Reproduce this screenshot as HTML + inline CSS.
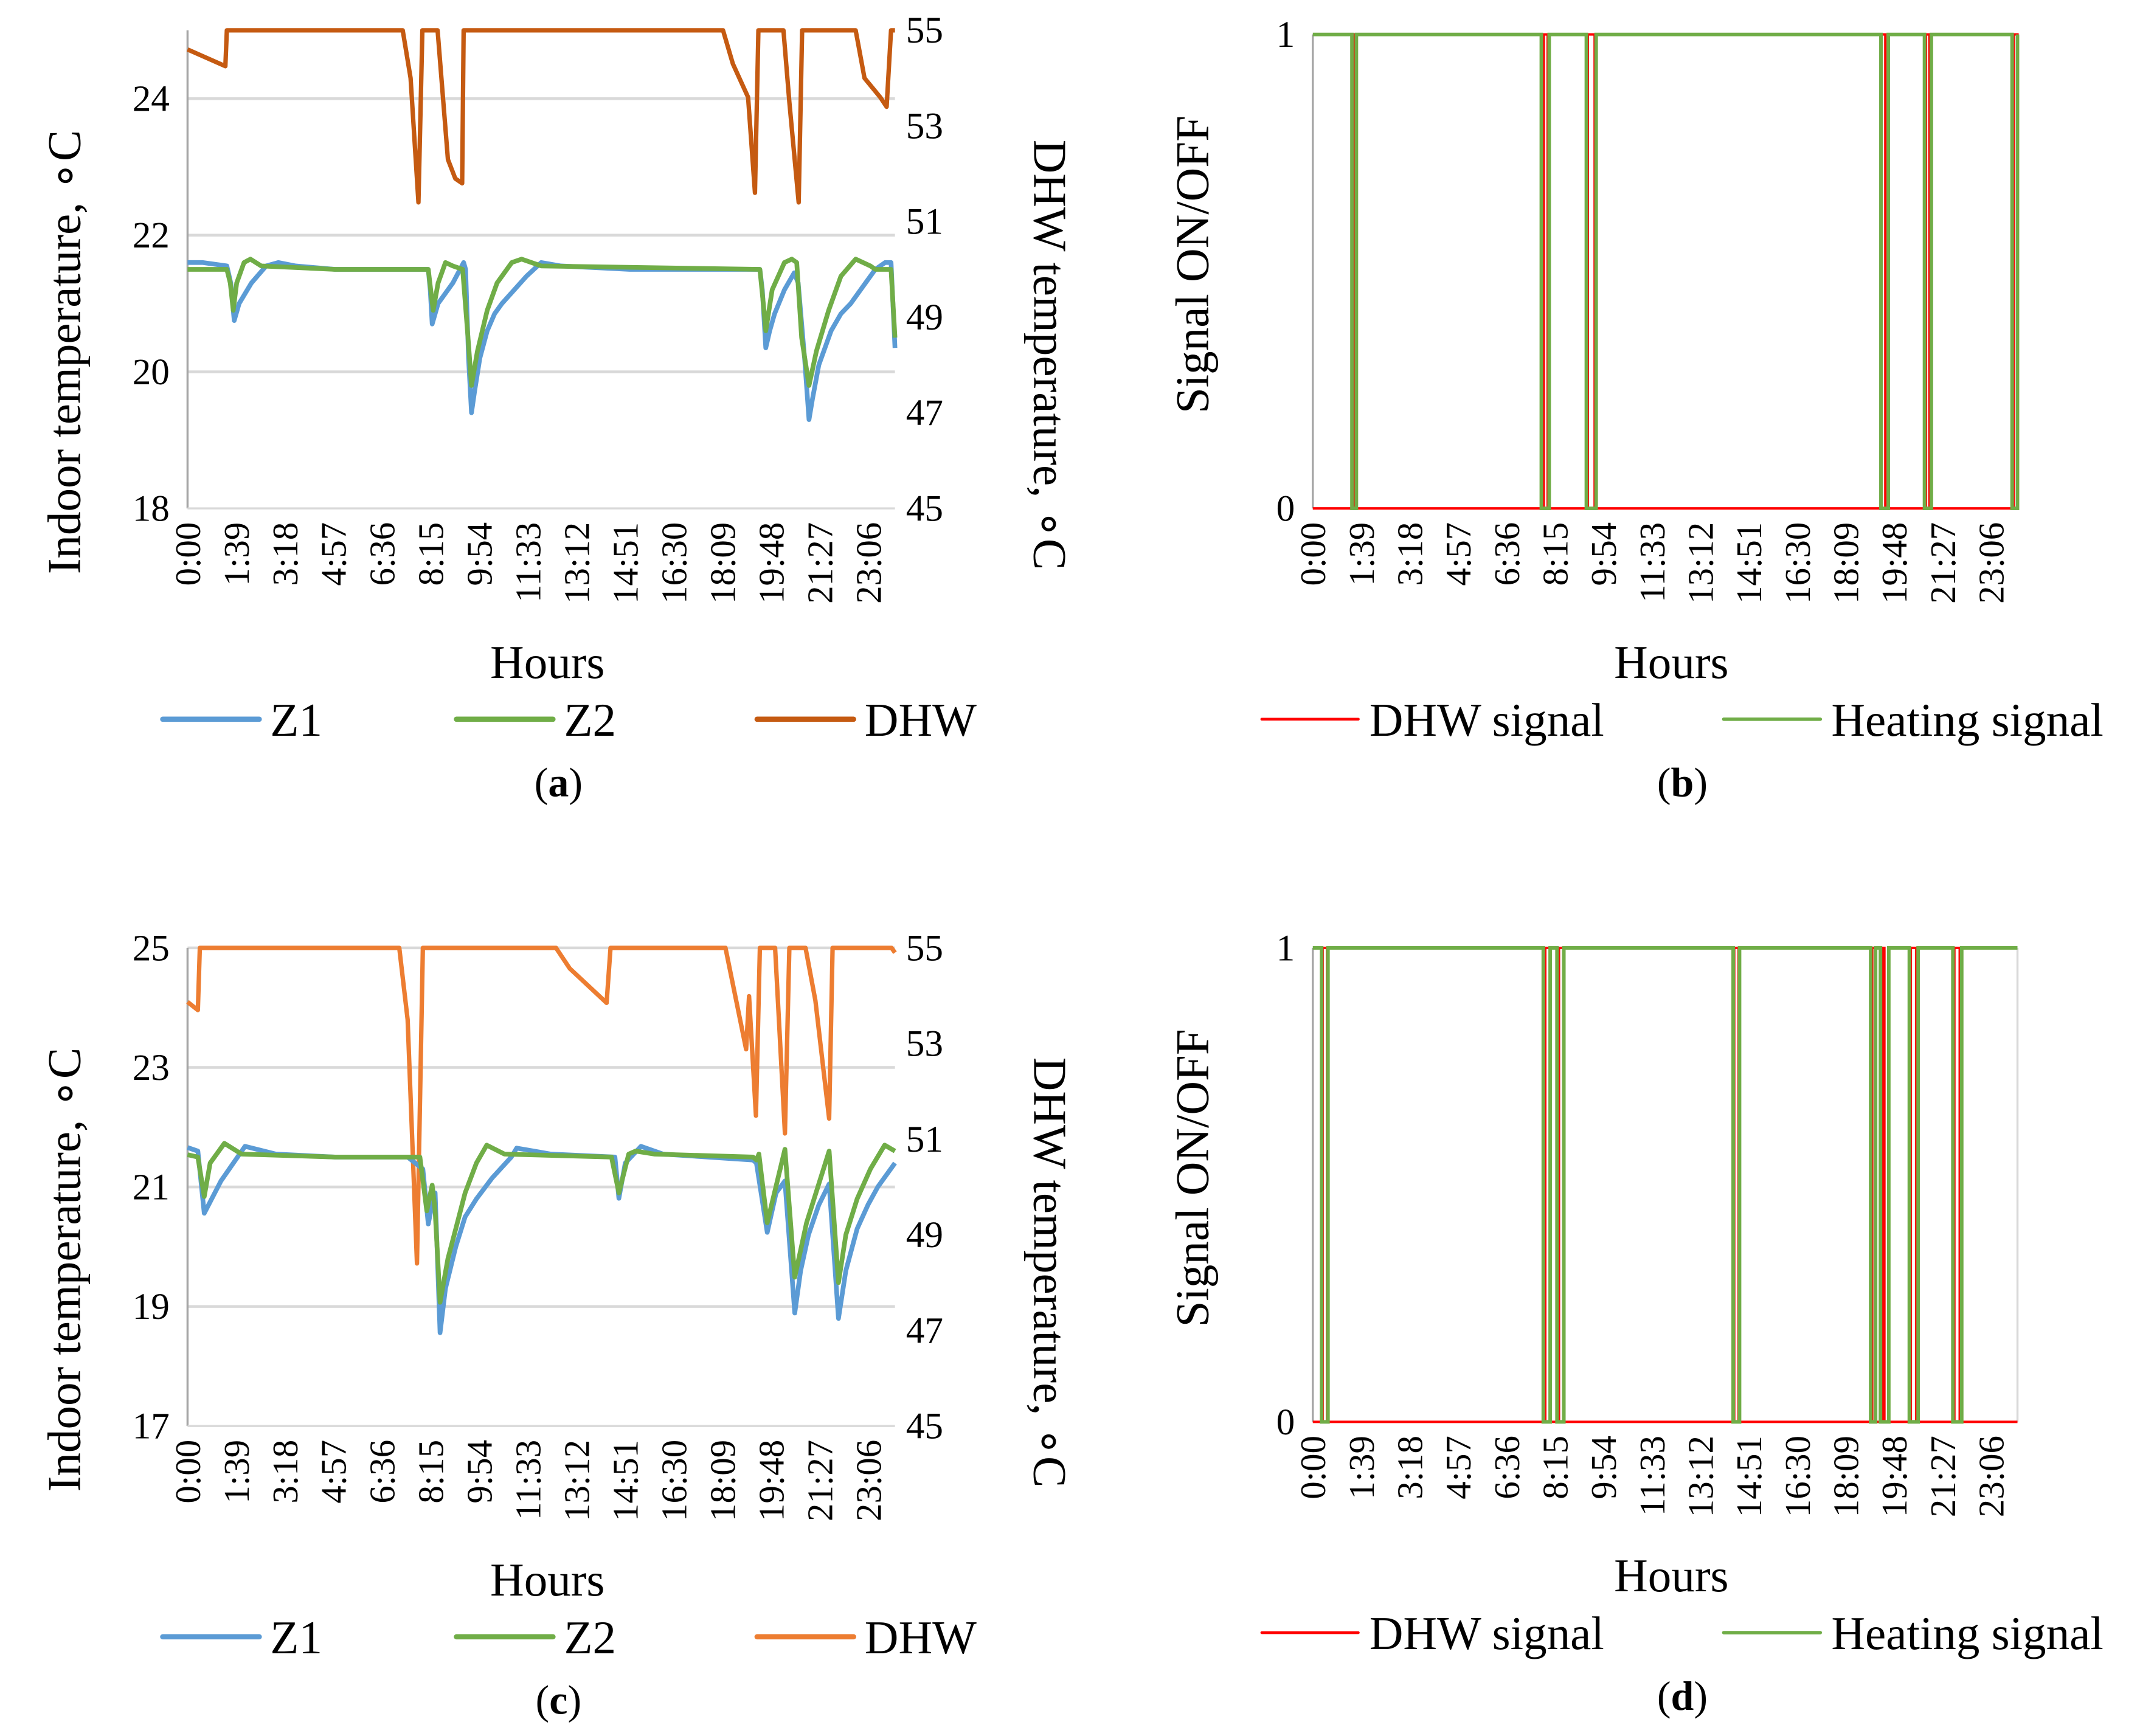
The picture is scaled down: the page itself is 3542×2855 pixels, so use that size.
<!DOCTYPE html>
<html><head><meta charset="utf-8"><style>
html,body{margin:0;padding:0;background:#fff;}
svg{display:block;}
svg text{font-family:"Liberation Serif","Times New Roman",serif;fill:#000;}
</style></head><body>
<svg id="fig" width="3542" height="2855" viewBox="0 0 1562 1260" preserveAspectRatio="none" font-family="Liberation Serif, serif" xmlns="http://www.w3.org/2000/svg"></svg>
<script>
// ---- data (time in minutes, values) ----
const tickLabels = ["0:00","1:39","3:18","4:57","6:36","8:15","9:54","11:33","13:12","14:51","16:30","18:09","19:48","21:27","23:06"];
const aZ1T = [0,30,80,88,95,105,130,160,185,220,300,490,494,498,510,540,562,566,572,578,584,595,610,625,640,665,690,720,760,900,1165,1170,1177,1185,1195,1215,1235,1243,1256,1265,1272,1285,1310,1330,1350,1375,1400,1420,1432,1440];
const aZ1V = [21.6,21.6,21.55,21.3,20.75,21.0,21.3,21.55,21.6,21.55,21.5,21.5,21.2,20.7,21.0,21.3,21.6,21.5,20.2,19.4,19.7,20.2,20.6,20.85,21.0,21.2,21.4,21.6,21.55,21.5,21.5,21.2,20.35,20.6,20.85,21.2,21.45,21.3,20.2,19.3,19.6,20.1,20.6,20.85,21.0,21.25,21.5,21.6,21.6,20.35];
const aZ2T = [0,80,87,93,100,115,128,150,300,490,495,500,510,525,540,560,572,578,590,610,630,660,680,720,1165,1172,1177,1190,1215,1230,1240,1250,1265,1280,1305,1330,1360,1390,1400,1432,1440];
const aZ2V = [21.5,21.5,21.3,20.9,21.3,21.6,21.65,21.55,21.5,21.5,21.2,20.9,21.3,21.6,21.55,21.5,20.4,19.8,20.3,20.9,21.3,21.6,21.65,21.55,21.5,21.0,20.6,21.2,21.6,21.65,21.6,20.5,19.8,20.3,20.9,21.4,21.65,21.55,21.5,21.5,20.5];
const aDT = [0,77,80,438,454,470,478,509,530,545,559,562,1090,1110,1141,1155,1162,1213,1225,1244,1251,1360,1378,1410,1423,1432,1440];
const aDV = [54.6,54.25,55,55,54.0,51.4,55,55,52.3,51.9,51.8,55,55,54.3,53.6,51.6,55,55,53.5,51.4,55,55,54.0,53.6,53.4,55,55];
const cZ1T = [0,21,34,68,117,180,300,448,479,490,500,504,514,525,546,565,588,620,659,670,740,870,878,891,923,968,1151,1158,1180,1198,1216,1236,1248,1264,1285,1306,1325,1340,1363,1385,1405,1440];
const cZ1V = [21.66,21.6,20.56,21.1,21.68,21.55,21.5,21.5,21.3,20.38,20.8,20.9,18.56,19.3,20.0,20.5,20.8,21.15,21.5,21.65,21.55,21.5,20.81,21.4,21.68,21.55,21.45,21.4,20.24,20.9,21.1,18.89,19.6,20.2,20.7,21.05,18.8,19.6,20.3,20.7,21.0,21.4];
const cZ2T = [0,21,34,46,75,110,300,448,473,487,498,504,514,530,546,565,588,609,645,863,878,898,912,950,1151,1158,1163,1180,1216,1236,1260,1306,1325,1340,1363,1390,1419,1440];
const cZ2V = [21.54,21.5,20.84,21.4,21.73,21.55,21.5,21.5,21.5,20.6,21.03,20.6,19.07,19.8,20.3,20.9,21.4,21.7,21.55,21.5,20.9,21.55,21.6,21.55,21.5,21.45,21.55,20.4,21.63,19.49,20.4,21.6,19.4,20.2,20.8,21.3,21.7,21.6];
const cDT = [0,21,25,431,448,467,479,750,778,853,861,1095,1137,1143,1157,1165,1196,1216,1225,1258,1278,1306,1313,1433,1440];
const cDV = [53.87,53.7,55,55,53.5,48.4,55,55,54.57,53.85,55,55,52.88,53.99,51.49,55,55,51.12,55,55,53.9,51.43,55,55,54.9];
// signal on/off intervals [start,end] minutes
const bDhwOn = [[84,89],[472,480],[562,576],[1162,1170],[1253,1260],[1432,1440]];
const bHeatOff = [[80,89],[467,483],[559,579],[1161,1176],[1250,1264],[1429,1440]];
const dDhwOn = [[20,29],[475,485],[503,512],[861,870],[1143,1149],[1163,1168],[1222,1233],[1311,1322]];
const dHeatOff = [[18,31],[471,485],[499,513],[859,872],[1140,1150],[1160,1177],[1219,1237],[1308,1326]];

const NS="http://www.w3.org/2000/svg";
const svg=document.getElementById('fig');
function mk(tag,attrs,parent){const e=document.createElementNS(NS,tag);for(const k in attrs)e.setAttribute(k,attrs[k]);(parent||svg).appendChild(e);return e;}
function txt(s,attrs,parent){attrs['font-family']='Liberation Serif, Times New Roman, serif';const e=mk('text',attrs,parent);e.textContent=s;return e;}

function xAxisFn(x0,x1){return m=>x0+(m/1440)*(x1-x0);}
function yAxisFn(y0,y1,v0,v1){return v=>y1-(v-v0)/(v1-v0)*(y1-y0);}

function frame(g,x0,x1,y0,y1,gridVals,ys,leftLabels,rightLabels,rys){
  gridVals.forEach(v=>{const y=ys(v);
    const l=mk('line',{x1:x0,x2:x1,y1:y,y2:y,stroke:'#D9D9D9','stroke-width':2},g);
    
    
  });
  const ax=mk('line',{x1:x0,x2:x0,y1:y0,y2:y1,stroke:'#A6A6A6','stroke-width':1.5},g);
  
  
  const bx=mk('line',{x1:x0,x2:x1,y1:y1,y2:y1,stroke:'#D9D9D9','stroke-width':1.5},g);
  
  
  leftLabels.forEach(v=>{const t=txt(String(v),{x:x0-13,y:ys(v)+9,'font-size':27,'text-anchor':'end'},g);
    
    
  });
  if(rightLabels){rightLabels.forEach(v=>{const t=txt(String(v),{x:x1+8,y:rys(v)+9,'font-size':27},g);
    
    
  });}
  const xs=xAxisFn(x0,x1);
  tickLabels.forEach((s,i)=>{const x=xs(i*99)+9;const t=txt(s,{x:0,y:0,'font-size':26,'text-anchor':'end',transform:`translate(${x},${y1+10}) rotate(-90)`},g);
    
    
  });
}
function series(g,T,V,xs,ys,color,w,name){
  const d=T.map((t,i)=>(i?'L':'M')+xs(t).toFixed(2)+' '+ys(V[i]).toFixed(2)).join(' ');
  const p=mk('path',{d:d,fill:'none',stroke:color,'stroke-width':w,'stroke-linejoin':'round'},g);
  
  
}
function signal(g,intervals,isOn,xs,ys,color,w,name){
  let pts=[];
  const base=isOn?0:1, alt=isOn?1:0;
  pts.push([0,base]);
  intervals.forEach(([a,b])=>{pts.push([a,base],[a,alt],[b,alt],[b,base]);});
  pts.push([1440,base]);
  const d=pts.map((p,i)=>(i?'L':'M')+xs(p[0]).toFixed(2)+' '+ys(p[1]).toFixed(2)).join(' ');
  const p=mk('path',{d:d,fill:'none',stroke:color,'stroke-width':w},g);
  
  
}
function legendItem(g,x,y,color,w,label,name){
  const l=mk('line',{x1:x,x2:x+70,y1:y,y2:y,stroke:color,'stroke-width':w,'stroke-linecap':'round'},g);
  
  
  const t=txt(label,{x:x+78,y:y+12,'font-size':34},g);
  
  
}
function caption(g,x,y,letter){
  const t=mk('text',{x:x,y:y,'font-size':30,'text-anchor':'middle','font-family':'Liberation Serif, serif'},g);
  
  
  t.innerHTML='(<tspan font-weight="bold">'+letter+'</tspan>)';
}

function tempPanel(dy,vmin,vmax,gridVals,lbls,Z1T,Z1V,Z2T,Z2V,DT,DV,dcol,letter){
  const g=mk('g',{});
  
  
  const x0=136,x1=649,y0=22+dy,y1=369+dy;
  const ys=yAxisFn(y0,y1,vmin,vmax), rys=yAxisFn(y0,y1,45,55), xs=xAxisFn(x0,x1);
  frame(g,x0,x1,y0,y1,gridVals,ys,lbls,[45,47,49,51,53,55],rys);
  series(g,DT,DV,xs,rys,dcol,3.2,'dhw-line');
  series(g,Z1T,Z1V,xs,ys,'#5B9BD5',3.4,'z1-line');
  series(g,Z2T,Z2V,xs,ys,'#70AD47',3.4,'z2-line');
  const t1=txt('Indoor temperature, ∘C',{x:0,y:0,'font-size':34,'text-anchor':'middle',transform:`translate(58,${(y0+y1)/2+60}) rotate(-90)`},g);
  
  
  const t2=txt('DHW temperature, ∘C',{x:0,y:0,'font-size':34,'text-anchor':'middle',transform:`translate(750,${(y0+y1)/2+62}) rotate(90)`},g);
  
  
  const h=txt('Hours',{x:397,y:492+dy,'font-size':34,'text-anchor':'middle'},g);
  
  
  legendItem(g,118,522+dy,'#5B9BD5',3.8,'Z1','legend-z1');
  legendItem(g,331,522+dy,'#70AD47',3.8,'Z2','legend-z2');
  legendItem(g,549,522+dy,dcol,3.8,'DHW','legend-dhw');
  caption(g,405,578+dy,letter);
}
function signalPanel(dy,dhwOn,heatOff,letter){
  const g=mk('g',{});
  
  
  const x0=952,x1=1463,y0=25+dy,y1=369+dy;
  const ys=yAxisFn(y0,y1,0,1), xs=xAxisFn(x0,x1);
  frame(g,x0,x1,y0,y1,[],ys,[0,1],null,null);
  const rl=mk('line',{x1:x1,x2:x1,y1:y0,y2:y1,stroke:'#D9D9D9','stroke-width':1.5},g);
  
  
  signal(g,dhwOn,true,xs,ys,'#FF0000',1.8,'dhw-signal-line');
  signal(g,heatOff,false,xs,ys,'#70AD47',2.6,'heating-signal-line');
  const t1=txt('Signal ON/OFF',{x:0,y:0,'font-size':34,'text-anchor':'middle',transform:`translate(876,${(y0+y1)/2-5}) rotate(-90)`},g);
  
  
  const h=txt('Hours',{x:1212,y:492+dy,'font-size':34,'text-anchor':'middle'},g);
  
  
  legendItem(g,915,522+dy,'#FF0000',2,'DHW signal','legend-dhw-signal');
  legendItem(g,1250,522+dy,'#70AD47',2.5,'Heating signal','legend-heating-signal');
  caption(g,1220,578+dy,letter);
}
tempPanel(0,18,25,[20,22,24],[18,20,22,24],aZ1T,aZ1V,aZ2T,aZ2V,aDT,aDV,'#C55A11','a');
signalPanel(0,bDhwOn,bHeatOff,'b');
tempPanel(666,17,25,[19,21,23,25],[17,19,21,23,25],cZ1T,cZ1V,cZ2T,cZ2V,cDT,cDV,'#ED7D31','c');
signalPanel(663,dDhwOn,dHeatOff,'d');
</script>
</body></html>
